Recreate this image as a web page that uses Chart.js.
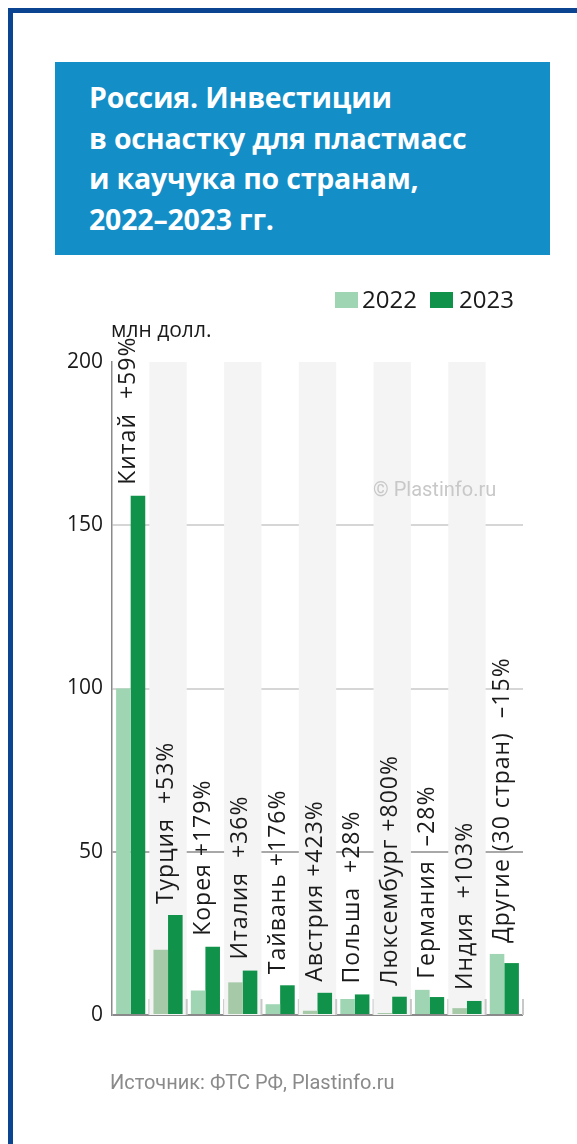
<!DOCTYPE html>
<html lang="ru">
<head>
<meta charset="utf-8">
<script src="https://cdn.jsdelivr.net/npm/chart.js@4.4.1/dist/chart.umd.min.js"></script>
<style>
  html, body { margin: 0; padding: 0; background: #fff; overflow: hidden; }
  body { width: 577px; height: 1144px; position: relative; font-family: "Open Sans", sans-serif; }
  #frame { position: absolute; left: 8px; top: 8px; width: 700px; height: 1300px;
           border-left: 5px solid #0b4592; border-top: 5px solid #0b4592; }
  #title { position: absolute; left: 55px; top: 62px; width: 495px; height: 193px; background: #138ec6;
           color: #fff; font-weight: bold; font-size: 28.5px; line-height: 40.5px; box-sizing: border-box;
           padding: 15px 0 0 34px; letter-spacing: -0.2px; }
  #legend { position: absolute; top: 286px; left: 335px; font-size: 24px; color: #1a1a1a; }
  #legend span.box { position: absolute; top: 6px; width: 23px; height: 16px; }
  #legend span.txt { position: absolute; top: -1px; line-height: 28px; }
  #unit { position: absolute; left: 111px; top: 315px; font-size: 21px; color: #1a1a1a; }
  #mark { position: absolute; left: 373px; top: 477px; font-family: Roboto, sans-serif; font-size: 20px; color: #c8c8c8; }
  #source { position: absolute; left: 110px; top: 1070px; font-family: Roboto, sans-serif; font-size: 20px; color: #8a8a8a; }
  canvas { position: absolute; left: 0; top: 0; }
</style>
</head>
<body>
<canvas id="chart" width="577" height="1144"></canvas>
<div id="frame"></div>
<div id="title">Россия. Инвестиции<br>в оснастку для пластмасс<br>и каучука по странам,<br>2022–2023 гг.</div>
<div id="legend">
  <span class="box" style="left:0;background:#9fd5b3"></span><span class="txt" style="left:27px">2022</span>
  <span class="box" style="left:95px;background:#10924a"></span><span class="txt" style="left:124px">2023</span>
</div>
<div id="unit">млн долл.</div>
<div id="mark">© Plastinfo.ru</div>
<div id="source">Источник: ФТС РФ, Plastinfo.ru</div>
<script>
// данные, млн долл.
const countries = ["Китай", "Турция", "Корея", "Италия", "Тайвань", "Австрия", "Польша", "Люксембург", "Германия", "Индия", "Другие (30 стран)"];
const changes = ["+59%", "+53%", "+179%", "+36%", "+176%", "+423%", "+28%", "+800%", "–28%", "+103%", "–15%"];
const gaps = ["  ", "  ", " ", "  ", " ", " ", "  ", " ", "  ", "  ", "  "];
const values2022 = [100, 20, 7.5, 10, 3.3, 1.3, 4.9, 0.62, 7.7, 2.1, 18.7];
const values2023 = [159, 30.6, 20.9, 13.6, 9.1, 6.8, 6.3, 5.6, 5.5, 4.3, 15.9];
const yTicks = [0, 50, 100, 150, 200];

const LIGHT = "#9fd5b3", LIGHT_BAND = "#a6caa8", DARK = "#10924a";

// серые полосы и засечки по группам
const bandsPlugin = {
  id: "bands",
  beforeDatasetsDraw(chart) {
    const { ctx, chartArea, scales } = chart;
    const x = scales.x;
    const w = x.getPixelForValue(1) - x.getPixelForValue(0);
    ctx.save();
    countries.forEach((c, i) => {
      const left = x.getPixelForValue(i) - w / 2;
      if (i % 2 === 1) {
        ctx.fillStyle = "#f4f4f4";
        ctx.fillRect(left, chartArea.top, w, chartArea.bottom - chartArea.top);
      }
      ctx.strokeStyle = "#c8c8c8";
      ctx.lineWidth = 2;
      ctx.beginPath();
      ctx.moveTo(left + w, chartArea.bottom);
      ctx.lineTo(left + w, chartArea.bottom - 16);
      ctx.stroke();
    });
    ctx.restore();
  }
};

// вертикальные подписи над столбиками
const labelsPlugin = {
  id: "vlabels",
  afterDatasetsDraw(chart) {
    const { ctx, scales } = chart;
    ctx.save();
    ctx.font = '23px "Open Sans", sans-serif';
    ctx.letterSpacing = "1px";
    ctx.fillStyle = "#1a1a1a";
    ctx.textAlign = "left";
    ctx.textBaseline = "middle";
    countries.forEach((c, i) => {
      const x = scales.x.getPixelForValue(i) - 2;
      const y = scales.y.getPixelForValue(Math.max(values2022[i], values2023[i])) - 11;
      ctx.save();
      ctx.translate(x, y);
      ctx.rotate(-Math.PI / 2);
      ctx.fillText(c + gaps[i] + changes[i], 0, 0);
      ctx.restore();
    });
    ctx.restore();
  }
};

new Chart(document.getElementById("chart").getContext("2d"), {
  type: "bar",
  data: {
    labels: countries,
    datasets: [
      { label: "2022", data: values2022, backgroundColor: countries.map((c, i) => i % 2 ? LIGHT_BAND : LIGHT) },
      { label: "2023", data: values2023, backgroundColor: DARK }
    ]
  },
  options: {
    responsive: false,
    animation: false,
    devicePixelRatio: 1,
    categoryPercentage: 0.78,
    barPercentage: 1.0,
    layout: { padding: { left: 0, top: 362, right: 54, bottom: 129 } },
    plugins: { legend: { display: false }, tooltip: { enabled: false } },
    scales: {
      x: { display: false },
      y: {
        min: 0, max: 200,
        afterBuildTicks(scale) { scale.ticks = yTicks.map(v => ({ value: v })); },
        afterFit(scale) { scale.width = 112; },
        ticks: { padding: 9, color: "#1a1a1a", font: { family: "Open Sans", size: 21 } },
        border: { color: "#8a8a8a", width: 1.5 },
        grid: {
          drawTicks: false,
          lineWidth: 2,
          color: ctx => {
            const v = ctx.tick && ctx.tick.value;
            if (v === 0) return "#8a8a8a";
            if (v === 50) return "#a8a8a8";
            if (v === 200) return "rgba(0,0,0,0)";
            return "#d6d6d6";
          }
        }
      }
    }
  },
  plugins: [bandsPlugin, labelsPlugin]
});
</script>
</body>
</html>
